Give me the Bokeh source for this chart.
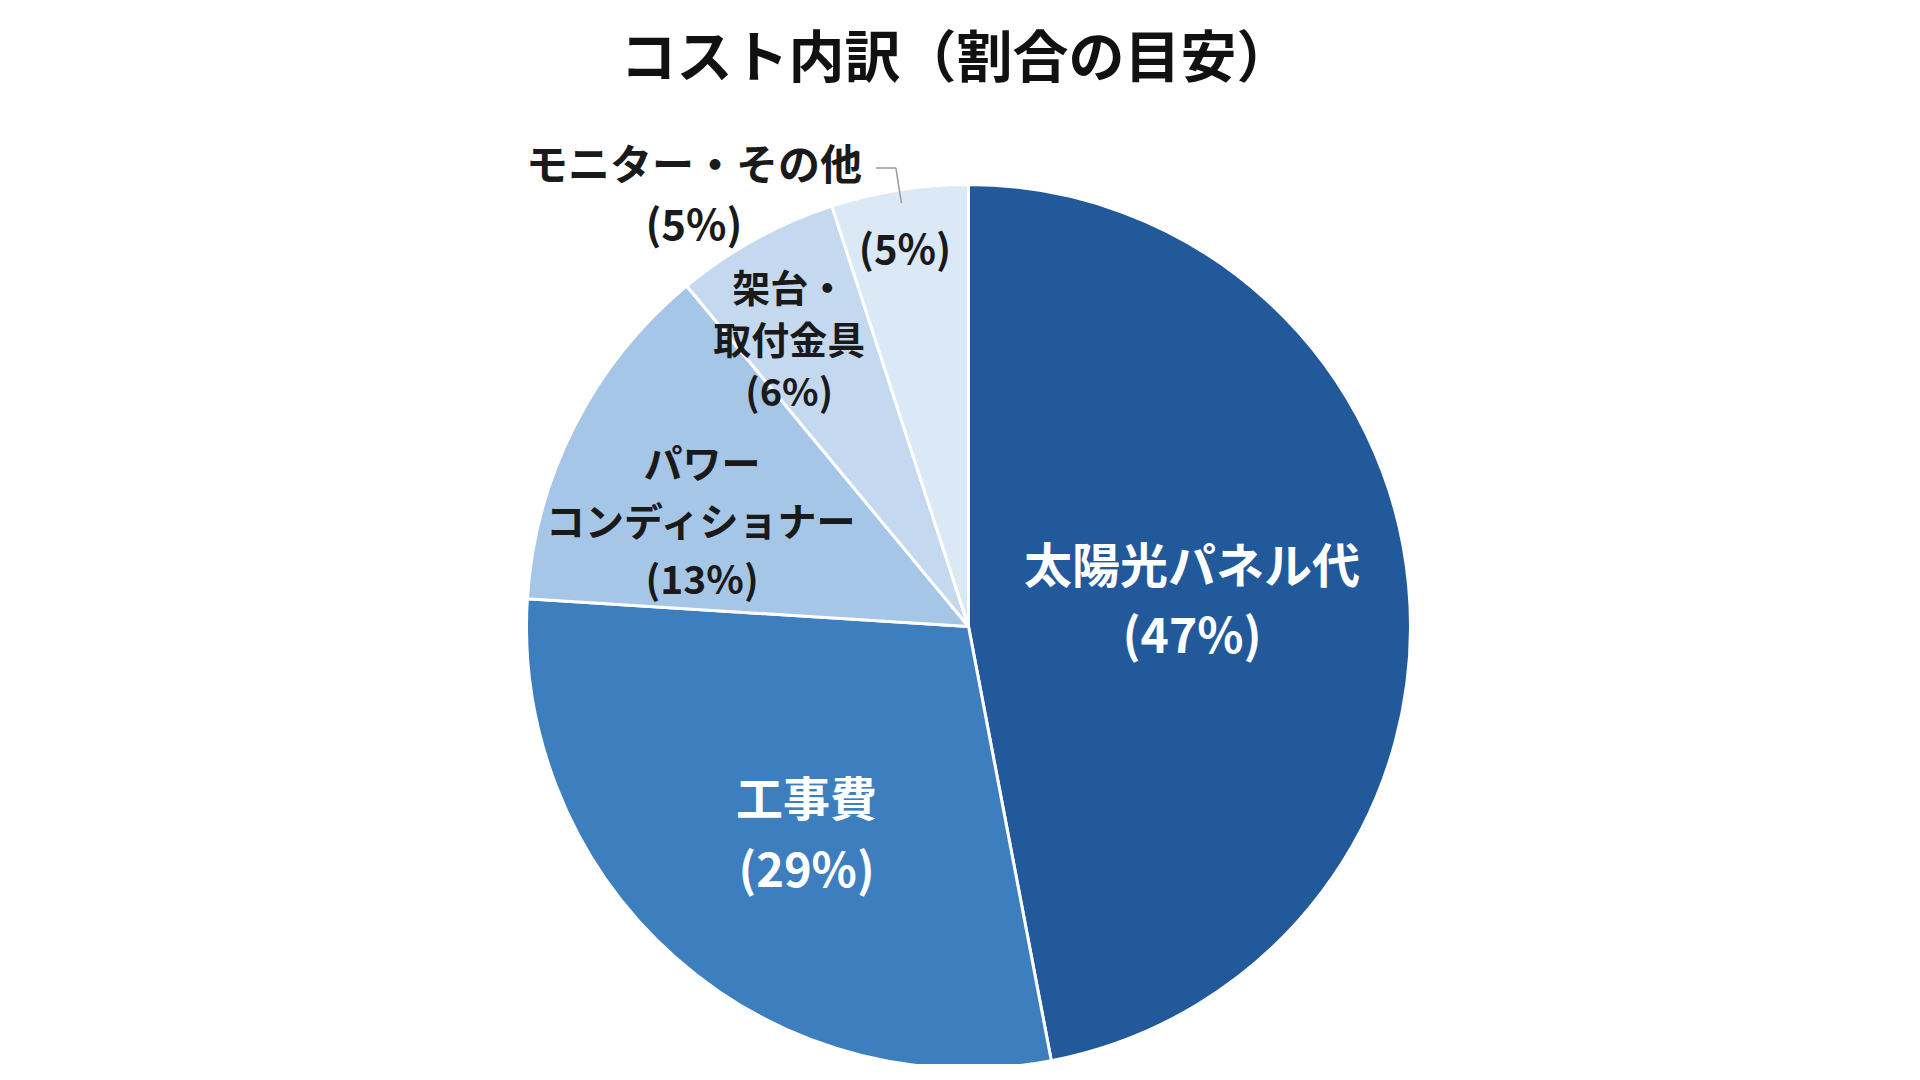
import numpy as np
from bokeh.plotting import figure
from bokeh.models import Range1d, ColumnDataSource
from bokeh.core.properties import value
from bokeh.embed import file_html
from bokeh.resources import INLINE

title = "コスト内訳（割合の目安）"
categories = ["太陽光パネル代", "工事費", "パワーコンディショナー", "架台・取付金具", "モニター・その他"]
shares = [47, 29, 13, 6, 5]
# how each category name is broken into lines inside its slice (last one sits outside)
name_lines = [["太陽光パネル代"], ["工事費"], ["パワー", "コンディショナー"], ["架台・", "取付金具"], []]
outside_name = ["モニター・その他"]

colors = ["#22599b", "#3d7ebf", "#a6c6e8", "#c4d9f0", "#dbe8f6"]
text_colors = ["white", "white", "#1a1a1a", "#1a1a1a", "#1a1a1a"]
font_px = [48, 47, 39, 38, 40]
line_gap = [70, 71, 58, 52, 60]
r_frac = [0.51, 0.59, 0.65, 0.77, 0.87]
ang_nudge = [-2, -3, -5, -3, -0.5]  # degrees, compass direction

FONT = value("Noto Sans CJK JP")
W, H = 1904, 1064
cx, cy, R = 976, 446, 442

p = figure(width=W, height=H, x_range=Range1d(8, 8 + W), y_range=Range1d(8, 8 + H),
           toolbar_location=None, output_backend="svg", min_border=0)
p.axis.visible = False
p.grid.visible = False
p.outline_line_color = None
p.background_fill_color = "white"
p.border_fill_color = "white"

frac = np.array(shares) / sum(shares)
cum = np.concatenate([[0], np.cumsum(frac)])
start = np.pi / 2 - 2 * np.pi * cum[:-1]
end = np.pi / 2 - 2 * np.pi * cum[1:]

src = ColumnDataSource(dict(x=[cx] * len(shares), y=[cy] * len(shares), start=start, end=end,
                            color=colors, name=categories))
p.wedge(x="x", y="y", radius=R, start_angle="start", end_angle="end", direction="clock",
        fill_color="color", line_color="white", line_width=3, source=src)

# labels inside slices
compass_mid = 360 * (cum[:-1] + cum[1:]) / 2
for i, s in enumerate(shares):
    lines = name_lines[i] + [f"({s}%)"]
    a = np.deg2rad(compass_mid[i] + ang_nudge[i])
    lx = cx + r_frac[i] * R * np.sin(a)
    ly = cy + r_frac[i] * R * np.cos(a)
    n = len(lines)
    ys = [ly + ((n - 1) / 2 - k) * line_gap[i] for k in range(n)]
    p.text(x=[lx] * n, y=ys, text=lines, text_align="center", text_baseline="middle",
           text_font=FONT, text_font_style="bold", text_font_size=value(f"{font_px[i]}px"),
           text_color=text_colors[i])

# outside label with leader for the last slice
a5 = np.deg2rad(compass_mid[-1])
p0 = (cx + 0.97 * R * np.sin(a5), cy + 0.97 * R * np.cos(a5))
p1 = (cx + 1.05 * R * np.sin(a5), cy + 1.05 * R * np.cos(a5))
p2 = (p1[0] - 20, p1[1])
p.line(x=[p0[0], p1[0], p2[0]], y=[p0[1], p1[1], p2[1]], line_color="#9a9a9a", line_width=1.5)
out_lines = outside_name + [f"({shares[-1]}%)"]
ox = p2[0] - 182
oy = p2[1] + 7
p.text(x=[ox] * 2, y=[oy, oy - 60], text=out_lines, text_align="center", text_baseline="middle",
       text_font=FONT, text_font_style="bold", text_font_size=value("42px"), text_color="#1a1a1a")

# title
p.text(x=[964], y=[1020], text=[title], text_align="center", text_baseline="middle",
       text_font=FONT, text_font_style="bold", text_font_size=value("56px"), text_color="#111111")

open("out.html", "w").write(file_html(p, INLINE))
